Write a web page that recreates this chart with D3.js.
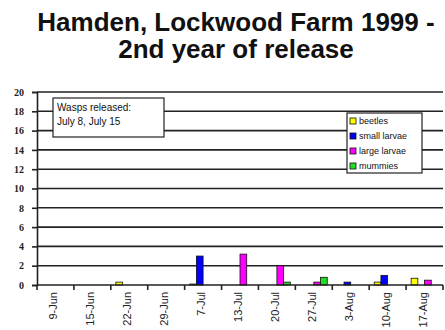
<!DOCTYPE html>
<html><head><meta charset="utf-8">
<script src="https://cdn.jsdelivr.net/npm/d3@7"></script>
<style>body{margin:0;background:#fff}svg{display:block}</style>
</head><body>
<script>
const categories = ["9-Jun","15-Jun","22-Jun","29-Jun","7-Jul","13-Jul","20-Jul","27-Jul","3-Aug","10-Aug","17-Aug"];
const seriesNames = ["beetles","small larvae","large larvae","mummies"];
const beetles     = [0,0,0.3,0,0.1,0,0,0,0,0.3,0.7];
const smallLarvae = [0,0,0,0,3.0,0,0,0,0.3,1.0,0];
const largeLarvae = [0,0,0,0,0,3.2,2.0,0.3,0,0,0.5];
const mummies     = [0,0,0,0,0,0,0.3,0.8,0,0,0];
const yTicks = [0,2,4,6,8,10,12,14,16,18,20];
const colors = ["#ffff00","#0000ff","#ff00ff","#22dd22"];
const titleLines = ["Hamden, Lockwood Farm 1999 -","2nd year of release"];
const noteLines = ["Wasps released:","July 8, July 15"];

const seriesData = [beetles, smallLarvae, largeLarvae, mummies];
const W = 445, H = 330;
const svg = d3.select("body").append("svg").attr("width",W).attr("height",H);

const m = {left:37, right:443, top:92, bottom:285};
const x = d3.scaleBand().domain(categories).range([m.left,m.right]).padding(0);
const xs = d3.scaleBand().domain(seriesNames).range([0,x.bandwidth()]).paddingInner(0).paddingOuter(0.75);
const y = d3.scaleLinear().domain([0,20]).range([m.bottom,m.top]);

// title
svg.append("g").selectAll("text").data(titleLines).join("text")
  .attr("x",236).attr("y",(d,i)=>31+i*27).attr("text-anchor","middle")
  .attr("font-family","Liberation Sans, Arial, sans-serif").attr("font-weight","bold")
  .attr("font-size",26).attr("fill","#111").text(d=>d);

// gridlines
svg.append("g").selectAll("line").data(yTicks.filter(t=>t>0)).join("line")
  .attr("x1",m.left).attr("x2",m.right).attr("y1",d=>y(d)).attr("y2",d=>y(d))
  .attr("stroke","#222").attr("stroke-width",1.6);

// y axis
const ya = svg.append("g").attr("transform",`translate(${m.left},0)`)
  .call(d3.axisLeft(y).tickValues(yTicks).tickSize(5).tickPadding(8));
ya.select(".domain").attr("stroke","#222").attr("stroke-width",1.6);
ya.selectAll(".tick line").attr("stroke","#222").attr("stroke-width",1.6);
ya.selectAll("text").attr("font-family","Liberation Serif, Times New Roman, serif")
  .attr("font-weight","bold").attr("font-size",10).attr("fill","#222");

// bars
const groups = svg.append("g").selectAll("g").data(categories).join("g")
  .attr("transform",d=>`translate(${x(d)},0)`);
groups.selectAll("rect").data((c,ci)=>seriesNames.map((s,si)=>({s,si,v:seriesData[si][ci]})).filter(d=>d.v>0))
  .join("rect")
  .attr("x",d=>xs(d.s)).attr("width",xs.bandwidth())
  .attr("y",d=>y(d.v)).attr("height",d=>y(0)-y(d.v))
  .attr("fill",d=>colors[d.si]).attr("stroke","#111").attr("stroke-width",0.8);

// x axis
const xa = svg.append("g").attr("transform",`translate(0,${m.bottom})`)
  .call(d3.axisBottom(x).tickSize(0).tickPadding(0));
xa.select(".domain").remove();
xa.append("line").attr("x1",m.left).attr("x2",m.right).attr("stroke","#222").attr("stroke-width",1.6);
xa.selectAll(".sep").data(d3.range(categories.length+1)).join("line").attr("class","sep")
  .attr("x1",i=>m.left+i*x.step()).attr("x2",i=>m.left+i*x.step())
  .attr("y1",0).attr("y2",5).attr("stroke","#222").attr("stroke-width",1.6);
xa.selectAll(".tick text")
  .attr("transform","translate(2,7) rotate(-90)")
  .attr("text-anchor","end").attr("dy","0")
  .attr("font-family","Liberation Sans, Arial, sans-serif").attr("font-size",11).attr("fill","#222");

// note box
const nb = svg.append("g");
nb.append("rect").attr("x",53).attr("y",98).attr("width",111).attr("height",39)
  .attr("fill","#fff").attr("stroke","#222").attr("stroke-width",1.2);
nb.selectAll("text").data(noteLines).join("text")
  .attr("x",57).attr("y",(d,i)=>111+i*14)
  .attr("font-family","Liberation Sans, Arial, sans-serif").attr("font-size",10).attr("fill","#111").text(d=>d);

// legend
const lg = svg.append("g").attr("transform","translate(347,113)");
lg.append("rect").attr("width",75).attr("height",60).attr("fill","#fff").attr("stroke","#222").attr("stroke-width",1.2);
const li = lg.selectAll("g").data(seriesNames).join("g").attr("transform",(d,i)=>`translate(3,${8+i*15})`);
li.append("rect").attr("x",0).attr("y",-3).attr("width",6).attr("height",6)
  .attr("fill",(d,i)=>colors[i]).attr("stroke","#111").attr("stroke-width",0.8);
li.append("text").attr("x",9).attr("y",3).attr("font-family","Liberation Sans, Arial, sans-serif")
  .attr("font-size",9).attr("fill","#111").text(d=>d);
</script>
</body></html>
